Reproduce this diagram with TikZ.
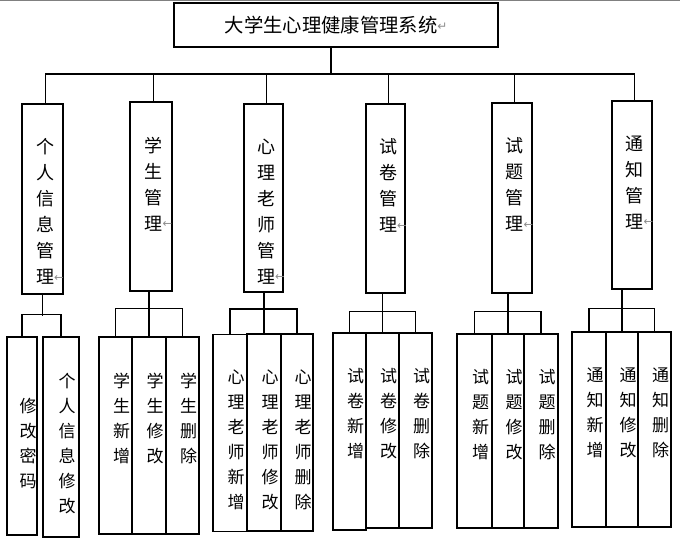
\documentclass[tikz,border=0pt]{standalone}
\usepackage{fontspec}
\usepackage{xcolor}
\usepackage{tikz}
\newfontfamily\cjk{Noto Sans CJK SC}
\newfontfamily\glyphs{DejaVu Sans}
\definecolor{linegray}{HTML}{808080}
\definecolor{markgray}{HTML}{8C8C8C}
\newcommand{\enterglyph}{\rlap{\raisebox{1.2pt}{\glyphs\fontsize{9}{9}\selectfont\color{markgray}↵}}}
\newcommand{\leftglyph}{\rlap{\raisebox{2pt}{\glyphs\fontsize{8.5}{8.5}\selectfont\color{markgray}←}}}
\tikzset{
  frame/.style={draw=black, line width=0.8pt, inner sep=0pt},
  boxsize/.style 2 args={minimum width=#1*0.75pt, minimum height=#2*0.75pt},
  link/.style={draw=black, line width=0.8pt},
  toptext/.style={font=\cjk\fontsize{14.5}{16}\selectfont, inner sep=0pt},
  modtext/.style={font=\cjk\fontsize{13.5}{19.5}\selectfont, align=center, inner sep=0pt, anchor=north, xshift=1.9pt, yshift=-26.25pt},
  subtext/.style={font=\cjk\fontsize{12.75}{18.75}\selectfont, align=center, inner sep=0pt, anchor=north, xshift=4.5pt, yshift=-27pt}
}

\begin{document}
\begin{tikzpicture}[x=0.75pt, y=-0.75pt]
  \useasboundingbox (0,0) rectangle (680,541);
  \draw[linegray, line width=0.8pt] (0,0.6) -- (680,0.6);

  % Root
  \node[frame, boxsize={324}{44}] (root) at (336,25) {};
  \node[toptext] (roottext) at (331,25) {大学生心理健康管理系统\enterglyph};

  % Modules
  \node[frame, boxsize={41}{190}] (m1) at (42.5,199) {};
  \node[frame, boxsize={42}{189}] (m2) at (151,196.5) {};
  \node[frame, boxsize={39}{188}] (m3) at (263.5,198) {};
  \node[frame, boxsize={39}{189}] (m4) at (385.5,198.5) {};
  \node[frame, boxsize={40}{190}] (m5) at (512,198) {};
  \node[frame, boxsize={40}{188}] (m6) at (632,195) {};

  \node[modtext] (t1) at (m1.north) {个\\人\\信\\息\\管\\理\leftglyph};
  \node[modtext] (t2) at (m2.north) {学\\生\\管\\理\leftglyph};
  \node[modtext] (t3) at (m3.north) {心\\理\\老\\师\\管\\理\leftglyph};
  \node[modtext] (t4) at (m4.north) {试\\卷\\管\\理\leftglyph};
  \node[modtext] (t5) at (m5.north) {试\\题\\管\\理\leftglyph};
  \node[modtext] (t6) at (m6.north) {通\\知\\管\\理\leftglyph};

  % Top bus
  \coordinate (bus) at (0,74);
  \draw[link] (roottext |- root.south) -- (roottext |- bus);
  \draw[link] (t1 |- bus) -- (t6 |- bus);
  \foreach \i in {1,...,6}
    \draw[link] (t\i |- bus) -- (t\i |- m\i.north);

  % Functions
  \node[frame, boxsize={30}{198}] (c11) at (22,436) {};
  \node[frame, boxsize={36}{200}] (c12) at (61,437) {};

  \node[frame, boxsize={33}{197}] (c21) at (115.5,435.5) {};
  \node[frame, boxsize={34}{197}] (c22) at (149,435.5) {};
  \node[frame, boxsize={33}{197}] (c23) at (182.5,435.5) {};

  \node[frame, boxsize={34}{197}] (c31) at (230,433) {};
  \node[frame, boxsize={34}{197}] (c32) at (264,432.5) {};
  \node[frame, boxsize={32}{197}] (c33) at (297,432.5) {};

  \node[frame, boxsize={33}{197}] (c41) at (349.5,431.5) {};
  \node[frame, boxsize={33}{195}] (c42) at (382.5,430.5) {};
  \node[frame, boxsize={33}{195}] (c43) at (415.5,430.5) {};

  \node[frame, boxsize={35}{194}] (c51) at (474.5,431) {};
  \node[frame, boxsize={32}{194}] (c52) at (508,431) {};
  \node[frame, boxsize={34}{194}] (c53) at (541,431) {};

  \node[frame, boxsize={34}{195}] (c61) at (589,429.5) {};
  \node[frame, boxsize={32}{195}] (c62) at (622,429.5) {};
  \node[frame, boxsize={33}{195}] (c63) at (654.5,429.5) {};

  \node[subtext, yshift=-18.75pt] (w11) at (c11.north) {修\\改\\密\\码};
  \node[subtext] (w12) at (c12.north) {个\\人\\信\\息\\修\\改};
  \node[subtext] (w21) at (c21.north) {学\\生\\新\\增};
  \node[subtext] (w22) at (c22.north) {学\\生\\修\\改};
  \node[subtext] (w23) at (c23.north) {学\\生\\删\\除};
  \node[subtext] (w31) at (c31.north) {心\\理\\老\\师\\新\\增};
  \node[subtext] (w32) at (c32.north) {心\\理\\老\\师\\修\\改};
  \node[subtext] (w33) at (c33.north) {心\\理\\老\\师\\删\\除};
  \node[subtext] (w41) at (c41.north) {试\\卷\\新\\增};
  \node[subtext] (w42) at (c42.north) {试\\卷\\修\\改};
  \node[subtext] (w43) at (c43.north) {试\\卷\\删\\除};
  \node[subtext] (w51) at (c51.north) {试\\题\\新\\增};
  \node[subtext] (w52) at (c52.north) {试\\题\\修\\改};
  \node[subtext] (w53) at (c53.north) {试\\题\\删\\除};
  \node[subtext] (w61) at (c61.north) {通\\知\\新\\增};
  \node[subtext] (w62) at (c62.north) {通\\知\\修\\改};
  \node[subtext] (w63) at (c63.north) {通\\知\\删\\除};

  % Sub buses
  \draw[link] (m1.south) -- ++(0,21);
  \draw[link] (c11.north) -- ++(0,-22) -| (c12.north);
  \draw[link] (c22 |- m2.south) -- (c22.north);
  \draw[link] (c21.north) -- ++(0,-28) -| (c23.north);
  \draw[link] (c32 |- m3.south) -- (c32.north);
  \draw[link] (c31.north) -- ++(0,-25) -| (c33.north);
  \draw[link] (c42 |- m4.south) -- (c42.north);
  \draw[link] (c41.north) -- ++(0,-21) -| (c43.north);
  \draw[link] (c52 |- m5.south) -- (c52.north);
  \draw[link] (c51.north) -- ++(0,-22) -| (c53.north);
  \draw[link] (c62 |- m6.south) -- (c62.north);
  \draw[link] (c61.north) -- ++(0,-23) -| (c63.north);
\end{tikzpicture}
\end{document}
